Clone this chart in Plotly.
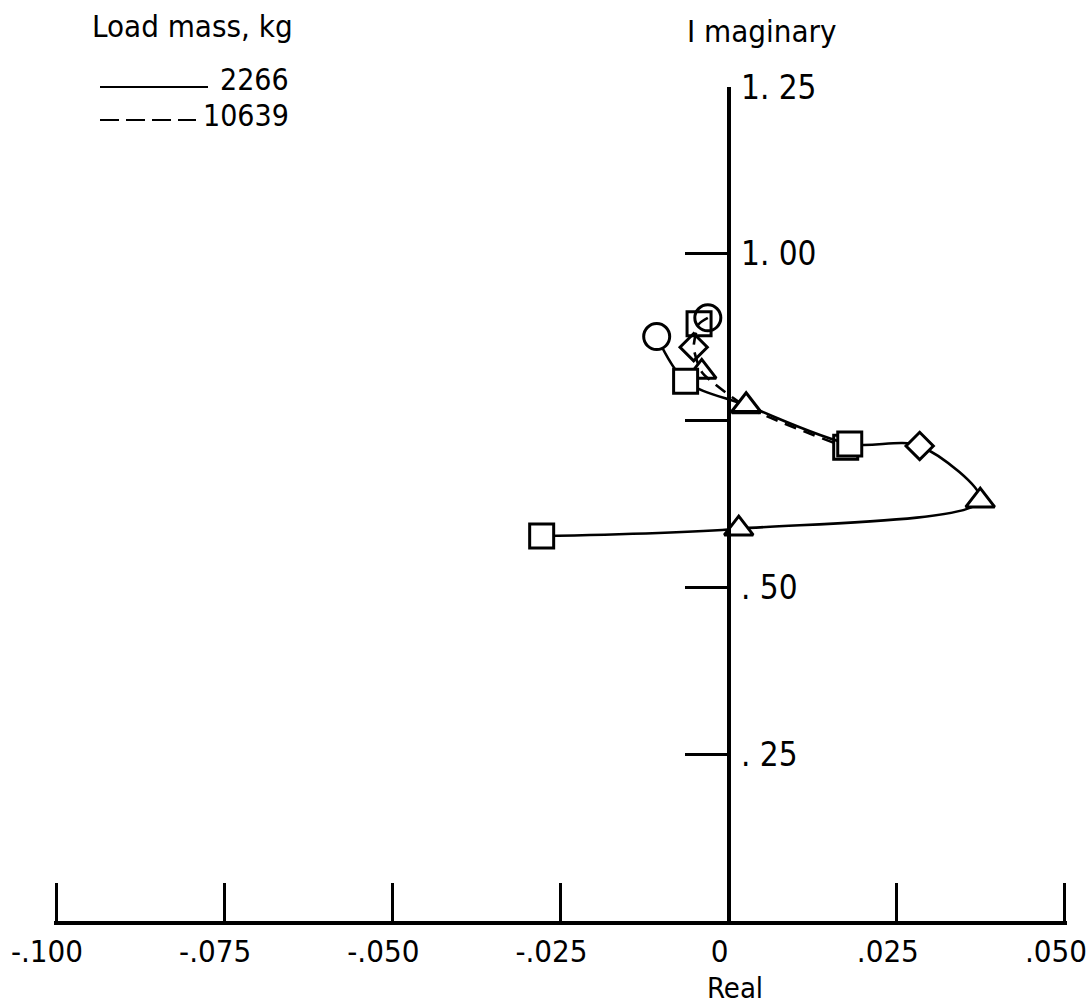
import plotly.graph_objects as go

# ---- data ----
real_2266 = [-0.0107, -0.0064, 0.0026, 0.0180, 0.0284, 0.0374, 0.0015, -0.0278]
imag_2266 = [0.876, 0.809, 0.773, 0.715, 0.712, 0.630, 0.588, 0.577]
sym_2266 = ["circle", "square", "triangle-up", "square", "diamond", "triangle-up", "triangle-up", "square"]

real_10639 = [-0.0031, -0.0044, -0.0052, -0.0040, 0.0026, 0.0174]
imag_10639 = [0.904, 0.895, 0.860, 0.823, 0.771, 0.710]
sym_10639 = ["circle", "square", "diamond", "triangle-up", "triangle-up", "square"]

x_tickvals = [-0.100, -0.075, -0.050, -0.025, 0.0, 0.025, 0.050]
x_ticktext = ["-.100", "-.075", "-.050", "-.025", "0", ".025", ".050"]
y_tickvals = [0.25, 0.50, 0.75, 1.00, 1.25]
y_ticktext = [". 25", ". 50", "", "1. 00", "1. 25"]

legend_title = "Load mass, kg"
legend_labels = ["2266", "10639"]

FONT = "Liberation Sans Narrow, DejaVu Sans Condensed, DejaVu Sans, sans-serif"
size_map = {"circle": 26, "square": 24, "diamond": 21, "triangle-up": 25}

X_RANGE = [-0.1003, 0.0503]
Y_RANGE = [0, 1.25]

fig = go.Figure()

# lines
fig.add_trace(go.Scatter(x=real_2266, y=imag_2266, mode="lines",
                         line=dict(color="black", width=2.6, shape="spline", smoothing=0.9),
                         hoverinfo="skip", showlegend=False))
fig.add_trace(go.Scatter(x=real_10639, y=imag_10639, mode="lines",
                         line=dict(color="black", width=2.6, dash="12px,8px", shape="spline", smoothing=0.6),
                         hoverinfo="skip", showlegend=False))

# markers
fig.add_trace(go.Scatter(x=real_10639, y=imag_10639, mode="markers",
                         marker=dict(symbol=[s + "-open" for s in sym_10639],
                                     size=[size_map[s] for s in sym_10639], opacity=1,
                                     color="black", line=dict(color="black", width=3)),
                         showlegend=False))
fig.add_trace(go.Scatter(x=real_2266, y=imag_2266, mode="markers",
                         marker=dict(symbol=sym_2266,
                                     size=[size_map[s] for s in sym_2266], opacity=1,
                                     color="white", line=dict(color="black", width=3)),
                         showlegend=False))

W, H = 1088, 1004
L, R, T, B = 54, 21, 87, 83
pw, ph = W - L - R, H - T - B


def px_x(px):
    return (px - L) / pw


def px_y(py):
    return (H - B - py) / ph


yaxis_pos = (0 - X_RANGE[0]) / (X_RANGE[1] - X_RANGE[0])

annotations = [
    dict(text=legend_title, x=px_x(192), y=px_y(26), xref="paper", yref="paper",
         showarrow=False, xanchor="center", yanchor="middle", font=dict(size=31, family=FONT, color="black")),
    dict(text=legend_labels[0], x=px_x(291), y=px_y(79), xref="paper", yref="paper",
         showarrow=False, xanchor="right", yanchor="middle", font=dict(size=30, family=FONT, color="black")),
    dict(text=legend_labels[1], x=px_x(291), y=px_y(115), xref="paper", yref="paper",
         showarrow=False, xanchor="right", yanchor="middle", font=dict(size=30, family=FONT, color="black")),
    dict(text="I maginary", x=px_x(762), y=px_y(31), xref="paper", yref="paper",
         showarrow=False, xanchor="center", yanchor="middle", font=dict(size=31, family=FONT, color="black")),
    dict(text="Real", x=px_x(735), y=px_y(988), xref="paper", yref="paper",
         showarrow=False, xanchor="center", yanchor="middle", font=dict(size=29, family=FONT, color="black")),
]

shapes = [
    dict(type="line", xref="paper", yref="paper", x0=px_x(100), x1=px_x(208), y0=px_y(87), y1=px_y(87),
         line=dict(color="black", width=2)),
    dict(type="line", xref="paper", yref="paper", x0=px_x(100), x1=px_x(196), y0=px_y(120), y1=px_y(120),
         line=dict(color="black", width=2, dash="19px,7px")),
]

fig.update_layout(
    width=W, height=H,
    margin=dict(l=L, r=R, t=T, b=B, autoexpand=False),
    paper_bgcolor="white", plot_bgcolor="white",
    annotations=annotations, shapes=shapes,
    xaxis=dict(range=X_RANGE, tickvals=x_tickvals, ticktext=x_ticktext,
               ticks="inside", ticklen=38, tickwidth=2.5, tickcolor="black",
               showline=True, linewidth=3.5, linecolor="black",
               showgrid=False, zeroline=False, automargin=False,
               ticklabeloverflow="allow", ticklabelshift=-9,
               tickfont=dict(size=31, family=FONT, color="black")),
    yaxis=dict(range=Y_RANGE, tickvals=y_tickvals, ticktext=y_ticktext,
               anchor="free", position=yaxis_pos, side="right",
               ticks="inside", ticklen=42, tickwidth=2.5, tickcolor="black",
               showline=True, linewidth=3.5, linecolor="black",
               showgrid=False, zeroline=False, ticklabelstandoff=4, automargin=False,
               tickfont=dict(size=33, family=FONT, color="black")),
)

fig.write_html("out.html")
